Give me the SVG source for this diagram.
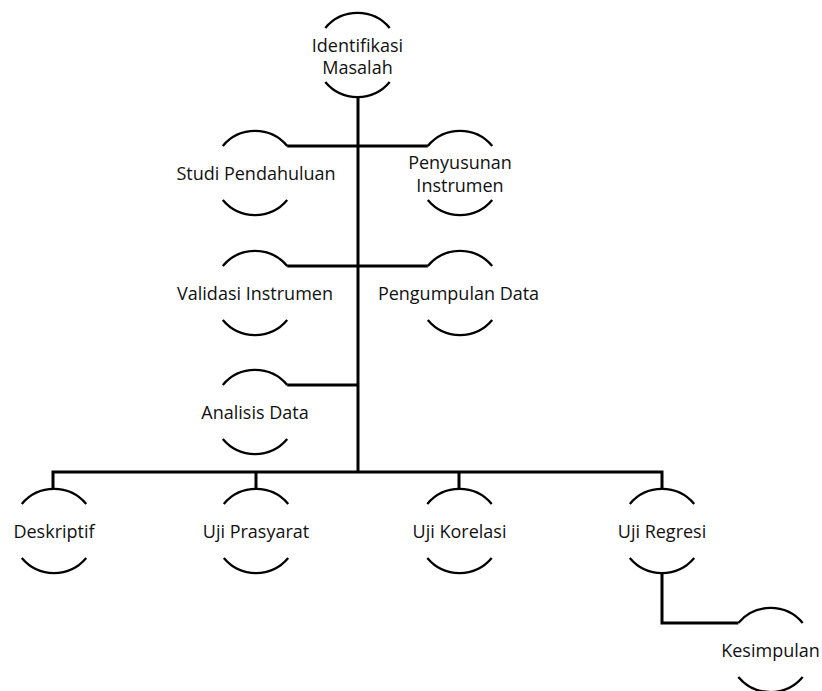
<svg xmlns="http://www.w3.org/2000/svg" width="822" height="691" viewBox="0 0 822 691">
<style>
.arc{fill:none;stroke:#000;stroke-width:2.3}
.conn{fill:none;stroke:#000;stroke-width:3}
text{font-family:"Open Sans","Noto Sans","Liberation Sans",sans-serif;font-size:18px;fill:#111;text-anchor:middle}
</style>
<rect width="822" height="691" fill="#fff"/>
<g id="connectors">
<path class="conn" d="M358 97 V472"/>
<path class="conn" d="M287.2 146 H427.8"/>
<path class="conn" d="M287.2 266 H427.8"/>
<path class="conn" d="M287.2 385 H358"/>
<path class="conn" d="M53 488.5 V472 H662 V489"/>
<path class="conn" d="M256 472 V489"/>
<path class="conn" d="M459 472 V489"/>
<path class="conn" d="M662 573 V623 H738.3"/>
</g>
<g id="identifikasi-masalah">
<path class="arc" d="M325.3 28 A42 42 0 0 1 389.7 28"/>
<path class="arc" d="M325.3 82 A42 42 0 0 0 389.7 82"/>
<text x="357.5" y="51.5">Identifikasi</text>
<text x="357.5" y="74">Masalah</text>
</g>
<g id="studi-pendahuluan">
<path class="arc" d="M222.8 146 A42 42 0 0 1 287.2 146"/>
<path class="arc" d="M222.8 200 A42 42 0 0 0 287.2 200"/>
<text x="256" y="180">Studi Pendahuluan</text>
</g>
<g id="penyusunan-instrumen">
<path class="arc" d="M427.8 146 A42 42 0 0 1 492.2 146"/>
<path class="arc" d="M427.8 200 A42 42 0 0 0 492.2 200"/>
<text x="460" y="168.5">Penyusunan</text>
<text x="460" y="191.5">Instrumen</text>
</g>
<g id="validasi-instrumen">
<path class="arc" d="M222.8 266 A42 42 0 0 1 287.2 266"/>
<path class="arc" d="M222.8 320 A42 42 0 0 0 287.2 320"/>
<text x="255" y="300">Validasi Instrumen</text>
</g>
<g id="pengumpulan-data">
<path class="arc" d="M427.8 266 A42 42 0 0 1 492.2 266"/>
<path class="arc" d="M427.8 320 A42 42 0 0 0 492.2 320"/>
<text x="458.5" y="300">Pengumpulan Data</text>
</g>
<g id="analisis-data">
<path class="arc" d="M222.8 385 A42 42 0 0 1 287.2 385"/>
<path class="arc" d="M222.8 439 A42 42 0 0 0 287.2 439"/>
<text x="255" y="419">Analisis Data</text>
</g>
<g id="deskriptif">
<path class="arc" d="M21.8 504 A42 42 0 0 1 86.2 504"/>
<path class="arc" d="M21.8 558 A42 42 0 0 0 86.2 558"/>
<text x="54" y="538">Deskriptif</text>
</g>
<g id="uji-prasyarat">
<path class="arc" d="M223.8 504 A42 42 0 0 1 288.2 504"/>
<path class="arc" d="M223.8 558 A42 42 0 0 0 288.2 558"/>
<text x="256" y="538">Uji Prasyarat</text>
</g>
<g id="uji-korelasi">
<path class="arc" d="M427.3 504 A42 42 0 0 1 491.7 504"/>
<path class="arc" d="M427.3 558 A42 42 0 0 0 491.7 558"/>
<text x="459.5" y="538">Uji Korelasi</text>
</g>
<g id="uji-regresi">
<path class="arc" d="M629.8 504 A42 42 0 0 1 694.2 504"/>
<path class="arc" d="M629.8 558 A42 42 0 0 0 694.2 558"/>
<text x="662" y="538">Uji Regresi</text>
</g>
<g id="kesimpulan">
<path class="arc" d="M738.3 623 A42 42 0 0 1 802.7 623"/>
<path class="arc" d="M738.3 677 A42 42 0 0 0 802.7 677"/>
<text x="770.5" y="657">Kesimpulan</text>
</g>
</svg>
